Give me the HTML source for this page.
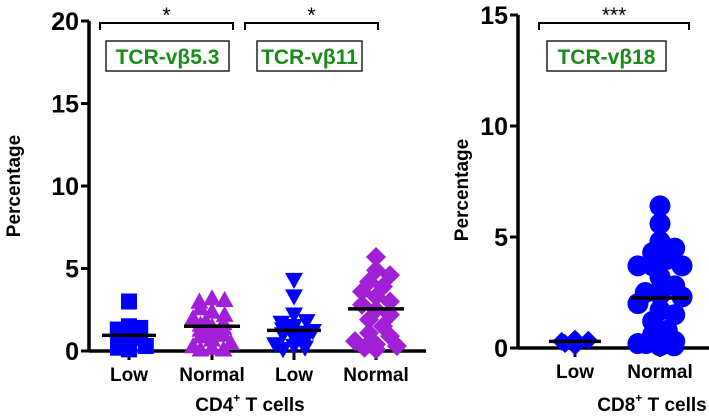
<!DOCTYPE html>
<html><head><meta charset="utf-8"><style>
body{margin:0;background:#fff}
svg{display:block;font-family:"Liberation Sans",Arial,sans-serif}
</style></head><body>
<svg id="chart" width="709" height="420" viewBox="0 0 709 420">
<g id="left"></g>
<g id="right"></g>
</svg>
<script>
// ---- data ----
const cd4Categories = ["Low","Normal","Low","Normal"];
const cd4Low53 = [3.0,1.5,1.4,1.3,1.2,1.1,1.0,0.9,0.8,0.6,0.5,0.3,0.2,0.1];
const cd4Norm53 = [3.2,3.1,3.0,2.6,2.4,2.2,2.0,1.8,1.7,1.6,1.5,1.4,1.3,1.1,1.0,0.9,0.7,0.5,0.3,0.2,0.1,0.1];
const cd4Low11 = [4.3,3.3,2.2,1.8,1.7,1.5,1.3,1.2,1.1,1.0,0.8,0.6,0.4,0.3,0.2,0.1];
const cd4Norm11 = [5.7,4.9,4.6,4.2,3.9,3.6,3.3,3.0,2.8,2.5,2.2,1.9,1.5,1.1,0.9,0.6,0.4,0.3,0.2,0.1];
const cd4Medians = [0.95,1.5,1.25,2.55];
const cd4Ticks = [0,5,10,15,20];
const cd8Categories = ["Low","Normal"];
const cd8Low18 = [0.4,0.35,0.3,0.2,0.1];
const cd8Norm18 = [6.4,5.6,4.8,4.5,4.3,4.0,3.7,3.7,3.7,3.2,2.8,2.6,2.5,2.4,2.3,2.0,1.7,1.5,1.2,0.8,0.6,0.3,0.2,0.2,0.2,0.1,0.1];
const cd8Medians = [0.3,2.25];
const cd8Ticks = [0,5,10,15];

const NS="http://www.w3.org/2000/svg";
function mk(parent,tag,attrs,text){const e=document.createElementNS(NS,tag);for(const k in attrs)e.setAttribute(k,attrs[k]);if(text!=null)e.textContent=text;parent.appendChild(e);return e;}

function swarm(vals,yfn,cx,d,maxw){
  const placed=[];const out=[];
  vals.forEach(v=>{const y=yfn(v);let chosen=null;
    for(let k=0;k<30;k++){const off=(k%2?1:-1)*Math.ceil(k/2)*d*0.35;
      if(Math.abs(off)>maxw)continue;
      if(placed.every(p=>Math.hypot(p[0]-(cx+off),p[1]-y)>=d*0.6)){chosen=off;break;}}
    if(chosen===null)chosen=((placed.length%3)-1)*maxw*0.5;
    placed.push([cx+chosen,y]);out.push([cx+chosen,y]);});
  return out;
}

function panel(g,o){
  const y=v=>o.y0-(v/o.ymax)*(o.y0-o.ytop);
  mk(g,"line",{x1:o.ax,y1:o.ytop,x2:o.ax,y2:o.y0+1.5,stroke:"#000","stroke-width":3.5});
  mk(g,"line",{x1:o.ax,y1:o.y0,x2:o.xend,y2:o.y0,stroke:"#000","stroke-width":3.5});
  o.ticks.forEach(t=>{
    const tk=mk(g,"line",{x1:o.ax-8,y1:y(t),x2:o.ax,y2:y(t),stroke:"#000","stroke-width":3});
    
    
    const tl=mk(g,"text",{x:o.ax-10,y:y(t)+9,"text-anchor":"end","font-size":25,"font-weight":"bold"},t);
    
    
  });
  o.cats.forEach((c,i)=>{
    const x=o.cx[i];
    mk(g,"line",{x1:x,y1:o.y0,x2:x,y2:o.y0+9,stroke:"#000","stroke-width":3});
    const t=mk(g,"text",{x:x,y:o.y0+30,"text-anchor":"middle","font-size":19,"font-weight":"bold"},c);
    
    
  });
  o.series.forEach((s,i)=>{
    const pts=swarm(s.vals,y,o.cx[i],s.size,s.maxw);
    pts.forEach(p=>{
      let e;const r=s.size/2,[px,py]=p;
      if(s.shape==="square")e=mk(g,"rect",{x:px-r,y:py-r,width:s.size,height:s.size,fill:s.color});
      else if(s.shape==="up")e=mk(g,"polygon",{points:`${px},${py-r} ${px+r},${py+r*0.8} ${px-r},${py+r*0.8}`,fill:s.color});
      else if(s.shape==="down")e=mk(g,"polygon",{points:`${px},${py+r} ${px+r},${py-r*0.8} ${px-r},${py-r*0.8}`,fill:s.color});
      else if(s.shape==="diamond")e=mk(g,"polygon",{points:`${px},${py-r} ${px+r},${py} ${px},${py+r} ${px-r},${py}`,fill:s.color});
      else e=mk(g,"circle",{cx:px,cy:py,r:r,fill:s.color});
      
      
    });
    const m=mk(g,"line",{x1:o.cx[i]-s.medw,y1:y(o.medians[i]),x2:o.cx[i]+s.medw,y2:y(o.medians[i]),stroke:"#000","stroke-width":3.5});
    
    
  });
  const yt=mk(g,"text",{x:0,y:0,transform:`translate(${o.ytx},${o.yty}) rotate(-90)`,"text-anchor":"middle","font-size":19,"font-weight":"bold"},"Percentage");
  
  
  const xt=mk(g,"text",{x:o.xtx,y:411,"text-anchor":"middle","font-size":19,"font-weight":"bold"});
  
  
  mk(xt,"tspan",{},o.xtitle);mk(xt,"tspan",{dy:-9,"font-size":12},"+");mk(xt,"tspan",{dy:9}," T cells");
  o.brackets.forEach(b=>{
    const br=mk(g,"path",{d:`M${b.x1},30 V23 H${b.x2} V30`,fill:"none",stroke:"#000","stroke-width":2});
    
    
    const st=mk(g,"text",{x:(b.x1+b.x2)/2,y:22,"text-anchor":"middle","font-size":21},b.star);
    
    
    const bx=mk(g,"rect",{x:b.bx,y:41,width:b.bw,height:30,fill:"#fff",stroke:"#222","stroke-width":1.5});
    
    
    const bt=mk(g,"text",{x:b.bx+b.bw/2,y:64,"text-anchor":"middle","font-size":21,"font-weight":"bold",fill:"#1a8a1a"},b.label);
    
    
  });
}
const blue="#0000ff",purple="#a21fd8";
panel(document.getElementById("left"),{ax:89,y0:351,ytop:21,ymax:20,xend:426,ticks:cd4Ticks,cats:cd4Categories,
  cx:[129,212,294,376],medians:cd4Medians,ytx:20,yty:186,xtx:250,xtitle:"CD4",
  series:[{vals:cd4Low53,shape:"square",size:16,color:blue,maxw:22,medw:27},
          {vals:cd4Norm53,shape:"up",size:18,color:purple,maxw:23,medw:28},
          {vals:cd4Low11,shape:"down",size:18,color:blue,maxw:22,medw:27},
          {vals:cd4Norm11,shape:"diamond",size:20,color:purple,maxw:23,medw:28}],
  brackets:[{x1:100,x2:233,star:"*",bx:106,bw:123,label:"TCR-vβ5.3"},{x1:245,x2:378,star:"*",bx:257,bw:105,label:"TCR-vβ11"}]});
panel(document.getElementById("right"),{ax:518,y0:348,ytop:15,ymax:15,xend:709,ticks:cd8Ticks,cats:cd8Categories,
  cx:[575,660],medians:cd8Medians,ytx:468,yty:190,xtx:652,xtitle:"CD8",
  series:[{vals:cd8Low18,shape:"diamond",size:19,color:blue,maxw:20,medw:26},
          {vals:cd8Norm18,shape:"circle",size:21,color:blue,maxw:28,medw:29}],
  brackets:[{x1:539,x2:689,star:"***",bx:547,bw:119,label:"TCR-vβ18"}]});
</script>
</body></html>
